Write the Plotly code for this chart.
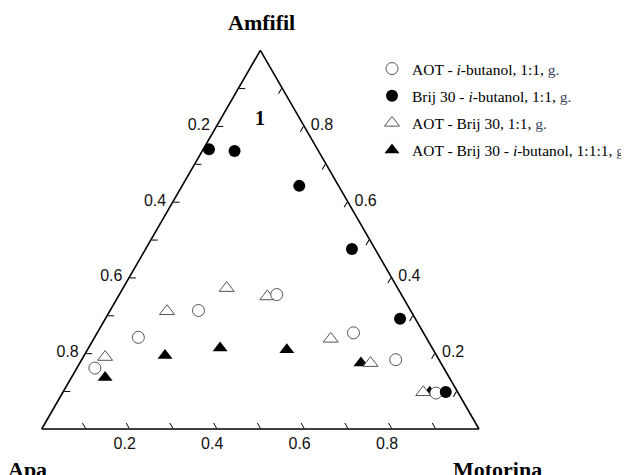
import plotly.graph_objects as go

# Compositions (mass fractions): a = Amfifil, b = Apa, c = Motorina
# AOT - i-butanol, 1:1 (open circles)
oc_amfifil = [0.161, 0.242, 0.313, 0.355, 0.254, 0.183, 0.095]
oc_apa = [0.798, 0.658, 0.485, 0.285, 0.160, 0.099, 0.051]
oc_motorina = [0.041, 0.100, 0.202, 0.360, 0.586, 0.718, 0.854]

# Brij 30 - i-butanol, 1:1 (filled circles)
fc_amfifil = [0.739, 0.734, 0.642, 0.475, 0.291, 0.098]
fc_apa = [0.248, 0.192, 0.090, 0.053, 0.035, 0.027]
fc_motorina = [0.013, 0.074, 0.268, 0.472, 0.674, 0.875]

# AOT - Brij 30, 1:1 (open triangles)
ot_amfifil = [0.190, 0.311, 0.372, 0.350, 0.238, 0.174, 0.097]
ot_apa = [0.760, 0.558, 0.391, 0.309, 0.220, 0.161, 0.079]
ot_motorina = [0.050, 0.131, 0.237, 0.341, 0.542, 0.665, 0.824]

# AOT - Brij 30 - i-butanol, 1:1:1 (filled triangles)
ft_amfifil = [0.136, 0.194, 0.214, 0.209, 0.174, 0.097]
ft_apa = [0.787, 0.621, 0.485, 0.335, 0.183, 0.064]
ft_motorina = [0.077, 0.185, 0.301, 0.456, 0.643, 0.839]

legend_names = [
    'AOT - <i>i</i>-butanol, 1:1, <span style="color:#3a4660">g.</span>',
    'Brij 30 - <i>i</i>-butanol, 1:1, <span style="color:#3a4660">g.</span>',
    'AOT - Brij 30, 1:1, <span style="color:#3a4660">g.</span>',
    'AOT - Brij 30 - <i>i</i>-butanol, 1:1:1, <span style="color:#3a4660">g.</span>',
]

tick_vals = [0.1, 0.2, 0.3, 0.4, 0.5, 0.6, 0.7, 0.8, 0.9]
# each edge is labelled with the complementary fraction (Apa on the left,
# Motorina on the bottom, Amfifil on the right)
tick_labels = ['', '0.8', '', '0.6', '', '0.4', '', '0.2', '']

NB = '\u00a0'
left_text = [t + NB if t else '' for t in tick_labels]
bottom_text = [t + NB + NB if t else '' for t in tick_labels]
right_text = [NB + t if t else '' for t in tick_labels]

fig = go.Figure()

fig.add_trace(go.Scatterternary(
    a=ft_amfifil, b=ft_apa, c=ft_motorina, mode='markers', name=legend_names[3],
    legendrank=4, legendgroup='g4',
    marker=dict(symbol='triangle-up', size=13, color='black', line=dict(width=0)),
))
fig.add_trace(go.Scatterternary(
    a=ot_amfifil, b=ot_apa, c=ot_motorina, mode='markers', name=legend_names[2],
    legendrank=3, legendgroup='g3',
    marker=dict(symbol='triangle-up', size=13, color='white', line=dict(width=1, color='#555555')),
))
fig.add_trace(go.Scatterternary(
    a=oc_amfifil, b=oc_apa, c=oc_motorina, mode='markers', name=legend_names[0],
    legendrank=1, legendgroup='g1',
    marker=dict(symbol='circle', size=12, color='white', line=dict(width=1, color='#555555')),
))
fig.add_trace(go.Scatterternary(
    a=fc_amfifil, b=fc_apa, c=fc_motorina, mode='markers', name=legend_names[1],
    legendrank=2, legendgroup='g2',
    marker=dict(symbol='circle', size=12, color='black', line=dict(width=0)),
))

axis_common = dict(
    showgrid=False, linecolor='black', linewidth=1.6,
    ticks='inside', ticklen=6, tickwidth=1.3, tickcolor='black',
    tickmode='array', tickvals=tick_vals,
    tickfont=dict(family='Liberation Sans, Arial, sans-serif', size=16, color='#111111'),
    title=dict(text=''), min=0,
)

# the page adds an 8px body margin; figure coordinates below are page - 8
OFF = 8
W, H = 629 - OFF, 475 - OFF


def px(x):
    return (x - OFF) / W


def py(y):
    return 1 - (y - OFF) / H


serif = 'Liberation Serif, Times New Roman, serif'

fig.update_layout(
    width=W, height=H,
    margin=dict(l=0, r=0, t=0, b=0, autoexpand=False),
    paper_bgcolor='white',
    showlegend=True,
    legend=dict(
        x=px(372), y=py(52), xanchor='left', yanchor='top',
        font=dict(family=serif, size=15.5, color='black'),
        bgcolor='rgba(0,0,0,0)', itemwidth=30,
        traceorder='grouped', tracegroupgap=4,
    ),
    ternary=dict(
        sum=1,
        bgcolor='white',
        domain=dict(x=[px(41.7), px(479)], y=[py(429.3), py(50)]),
        aaxis=dict(axis_common, ticktext=left_text),
        baxis=dict(axis_common, ticktext=bottom_text),
        caxis=dict(axis_common, ticktext=right_text),
    ),
    annotations=[
        dict(text='<b>Amfifil</b>', x=px(261), y=py(22), xref='paper', yref='paper',
             showarrow=False, xanchor='center', yanchor='middle',
             font=dict(family=serif, size=22, color='black')),
        dict(text='<b>Apa</b>', x=px(27), y=py(469), xref='paper', yref='paper',
             showarrow=False, xanchor='center', yanchor='middle',
             font=dict(family=serif, size=22, color='black')),
        dict(text='<b>Motorina</b>', x=px(497), y=py(469), xref='paper', yref='paper',
             showarrow=False, xanchor='center', yanchor='middle',
             font=dict(family=serif, size=22, color='black')),
        dict(text='<b>1</b>', x=px(260), y=py(118), xref='paper', yref='paper',
             showarrow=False, xanchor='center', yanchor='middle',
             font=dict(family=serif, size=20, color='black')),
    ],
)

fig.write_html('out.html')
